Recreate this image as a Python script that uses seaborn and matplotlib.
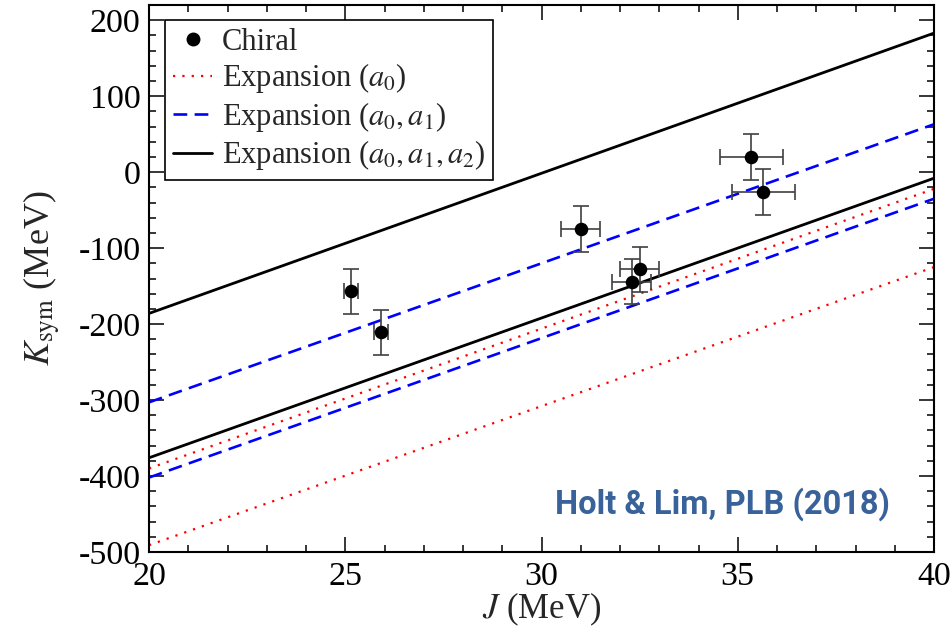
import numpy as np
import pandas as pd
import matplotlib
matplotlib.use("Agg")
import matplotlib.pyplot as plt
import seaborn as sns
from matplotlib.lines import Line2D
from matplotlib.ticker import MultipleLocator

# ---------------- data ----------------
chiral_J = [25.15, 25.9, 31.0, 32.3, 32.5, 35.35, 35.65]
chiral_K = [-157, -211, -75, -144, -128, 20, -26]
chiral_Jerr = [0.18, 0.18, 0.5, 0.5, 0.5, 0.8, 0.8]
chiral_Kerr = [30, 30, 30, 30, 30, 30, 30]

line_J = [20, 40]
a0_low = [-491, -125]
a0_high = [-390, -22]
a01_low = [-402, -35]
a01_high = [-303, 63]
a012_low = [-376, -8]
a012_high = [-186, 183]

labels = ["Chiral", r"Expansion ($a_0$)", r"Expansion ($a_0, a_1$)",
          r"Expansion ($a_0, a_1, a_2$)"]

# ---------------- style ----------------
sns.set_style("ticks")
plt.rcParams["font.family"] = ["Liberation Serif", "DejaVu Serif"]
plt.rcParams["mathtext.fontset"] = "stix"
plt.rcParams["axes.unicode_minus"] = False

fig = plt.figure(figsize=(9.53, 6.27), dpi=100)
W, H = 953, 627
ax = fig.add_axes([149 / W, 1 - 552 / H, 785 / W, 547 / H])

def draw_line(K, color, ls, lw):
    df = pd.DataFrame({"J": line_J, "K": K})
    sns.lineplot(data=df, x="J", y="K", ax=ax, color=color, linestyle=ls,
                 linewidth=lw, estimator=None, sort=False, legend=False)

dash_style = (0, (5.2, 2.8))
dot_style = (0, (1.0, 3.2))
draw_line(a0_low, "#ff0000", dot_style, 1.6)
draw_line(a0_high, "#ff0000", dot_style, 1.6)
draw_line(a01_low, "#0000ff", dash_style, 1.9)
draw_line(a01_high, "#0000ff", dash_style, 1.9)
draw_line(a012_low, "black", "-", 2.0)
draw_line(a012_high, "black", "-", 2.0)

ax.errorbar(chiral_J, chiral_K, xerr=chiral_Jerr, yerr=chiral_Kerr,
            fmt="none", ecolor="#404040", elinewidth=1.2, capsize=5.5,
            capthick=1.2, zorder=3)
sns.scatterplot(x=chiral_J, y=chiral_K, ax=ax, color="black", s=95,
                linewidth=0, zorder=4, legend=False)

ax.set_xlim(20, 40)
ax.set_ylim(-500, 220)
ax.xaxis.set_major_locator(MultipleLocator(5))
ax.xaxis.set_minor_locator(MultipleLocator(1))
ax.yaxis.set_major_locator(MultipleLocator(100))
ax.yaxis.set_minor_locator(MultipleLocator(20))
ax.tick_params(which="both", direction="in", top=True, right=True,
               width=1.1, colors="black")
ax.tick_params(which="major", length=10.8, labelsize=24.5)
ax.tick_params(axis="y", which="major", pad=6)
ax.tick_params(axis="x", which="major", pad=7)
ax.tick_params(which="minor", length=5)
for s in ax.spines.values():
    s.set_linewidth(1.5)
    s.set_color("black")

ax.set_xlabel(r"$J$ (MeV)", fontsize=25, labelpad=-1)
ax.set_ylabel(r"$K_{\rm sym}$ (MeV)", fontsize=26, labelpad=11)

handles = [
    Line2D([], [], marker="o", color="black", linestyle="none", markersize=9),
    Line2D([], [], color="#ff0000", linestyle=dot_style, linewidth=1.6),
    Line2D([], [], color="#0000ff", linestyle=dash_style, linewidth=1.9),
    Line2D([], [], color="black", linestyle="-", linewidth=2.0),
]
leg = ax.legend(handles, labels, loc="upper left",
                bbox_to_anchor=(16 / 785, 1 - 15 / 547), borderaxespad=0,
                fontsize=22, frameon=True, fancybox=False, edgecolor="black",
                framealpha=1, handlelength=1.3, handletextpad=0.3,
                labelspacing=0.15, borderpad=0.25)
leg.get_frame().set_linewidth(1.2)

ax.text(0.944, 0.0695, "Holt & Lim, PLB (2018)", transform=ax.transAxes,
        ha="right", va="baseline", fontsize=23.5, fontweight="bold",
        color="#39629a", family=["Roboto", "DejaVu Sans"])

fig.savefig("out.png", dpi=100)
